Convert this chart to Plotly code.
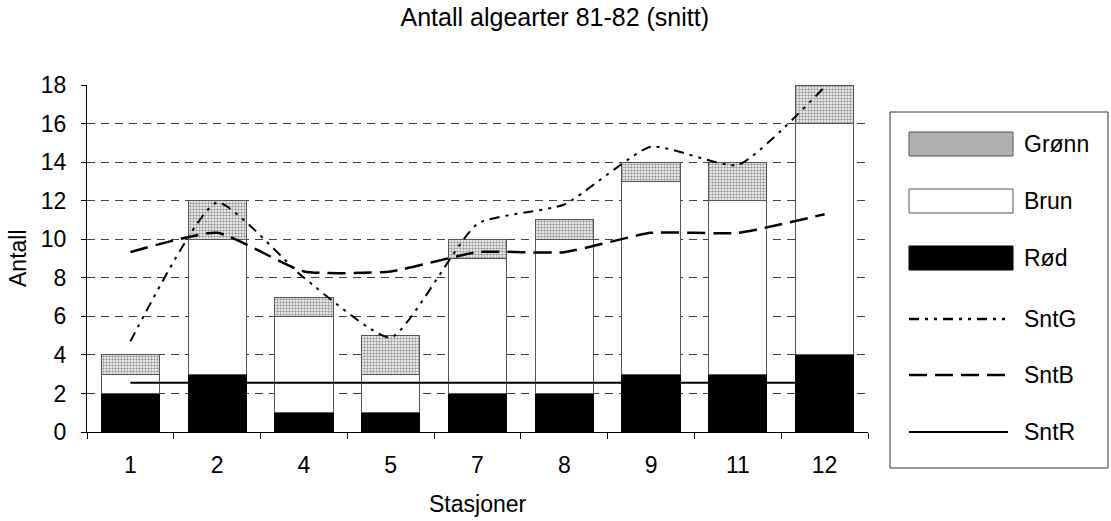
import plotly.graph_objects as go

# ---- data ----
stasjoner = ["1", "2", "4", "5", "7", "8", "9", "11", "12"]
rod = [2, 3, 1, 1, 2, 2, 3, 3, 4]
brun = [1, 7, 5, 2, 7, 8, 10, 9, 12]
gronn = [1, 2, 1, 2, 1, 1, 1, 2, 2]
snt_g = [4.7, 11.9, 8.0, 4.9, 10.8, 11.8, 14.8, 13.85, 17.9]
snt_b = [9.33, 10.33, 8.33, 8.33, 9.33, 9.33, 10.33, 10.33, 11.3]
snt_r = [2.56] * 9
y_ticks = [0, 2, 4, 6, 8, 10, 12, 14, 16, 18]

FONT = "Liberation Sans, Arial, sans-serif"
FS = 23

fig = go.Figure()
fig.add_trace(go.Bar(x=stasjoner, y=rod, name="Rød",
                     marker=dict(color="#000000", line=dict(color="#000000", width=1)),
                     showlegend=False))
fig.add_trace(go.Bar(x=stasjoner, y=brun, name="Brun",
                     marker=dict(color="#ffffff", line=dict(color="#555555", width=1)),
                     showlegend=False))
fig.add_trace(go.Bar(x=stasjoner, y=gronn, name="Grønn",
                     marker=dict(color="#ffffff", line=dict(color="#555555", width=1),
                                 pattern=dict(shape=".", fgcolor="#303030", bgcolor="#ffffff",
                                              size=3, solidity=0.5)),
                     showlegend=False))
fig.add_trace(go.Scatter(x=stasjoner, y=snt_r, name="SntR", mode="lines",
                         line=dict(color="#000000", width=2), showlegend=False))
fig.add_trace(go.Scatter(x=stasjoner, y=snt_b, name="SntB", mode="lines",
                         line=dict(color="#000000", width=2.5, dash="18px,8px",
                                   shape="spline", smoothing=0.5),
                         showlegend=False))
fig.add_trace(go.Scatter(x=stasjoner, y=snt_g, name="SntG", mode="lines",
                         line=dict(color="#000000", width=2, dash="10px,6px,3px,6px,3px,6px",
                                   shape="spline", smoothing=0.5),
                         showlegend=False))

L, R, T, B = 87, 243, 85, 89
W, H = 1111, 521
pw, ph = W - L - R, H - T - B


def px(x):
    return (x - L) / pw


def py(y):
    return (H - B - y) / ph


shapes = []
annotations = []
# legend box
shapes.append(dict(type="rect", xref="paper", yref="paper",
                   x0=px(890), x1=px(1108), y0=py(468), y1=py(112),
                   line=dict(color="#333333", width=1), fillcolor="rgba(0,0,0,0)"))
legend_items = [
    ("Grønn", 144, "rect", dict(fill="#b0b0b0", line="#555555")),
    ("Brun", 201, "rect", dict(fill="#ffffff", line="#555555")),
    ("Rød", 258, "rect", dict(fill="#000000", line="#000000")),
    ("SntG", 319, "line", dict(dash="10px,6px,3px,6px,3px,6px", w=2.5)),
    ("SntB", 375, "line", dict(dash="18px,8px", w=2.5)),
    ("SntR", 432, "line", dict(dash="solid", w=2)),
]
for name, yc, kind, st in legend_items:
    if kind == "rect":
        shapes.append(dict(type="rect", xref="paper", yref="paper",
                           x0=px(909), x1=px(1013), y0=py(yc + 12), y1=py(yc - 12),
                           fillcolor=st["fill"], line=dict(color=st["line"], width=1)))
    else:
        shapes.append(dict(type="line", xref="paper", yref="paper",
                           x0=px(909), x1=px(1008), y0=py(yc), y1=py(yc),
                           line=dict(color="#000000", width=st["w"], dash=st["dash"])))
    annotations.append(dict(text=name, xref="paper", yref="paper", x=px(1022), y=py(yc),
                            xanchor="left", yanchor="middle", showarrow=False,
                            font=dict(family=FONT, size=FS, color="#000000")))

# axis titles
annotations.append(dict(text="Stasjoner", xref="paper", yref="paper", x=0.5, y=py(519),
                        xanchor="center", yanchor="bottom", showarrow=False,
                        font=dict(family=FONT, size=FS, color="#000000")))
annotations.append(dict(text="Antall", xref="paper", yref="paper", x=px(18), y=py(258),
                        xanchor="center", yanchor="middle", showarrow=False, textangle=-90,
                        font=dict(family=FONT, size=FS, color="#000000")))

fig.update_layout(
    width=W, height=H,
    margin=dict(l=L, r=R, t=T, b=B, pad=0),
    paper_bgcolor="#ffffff", plot_bgcolor="#ffffff",
    barmode="stack", bargap=0.33,
    title=dict(text="Antall algearter 81-82 (snitt)", x=px(477), xanchor="center",
               y=1 - 17 / H, yanchor="middle", yref="container",
               font=dict(family=FONT, size=25, color="#000000")),
    font=dict(family=FONT, size=FS, color="#000000"),
    shapes=shapes, annotations=annotations, showlegend=False,
    xaxis=dict(type="category", showline=True, linecolor="#000000", linewidth=1,
               ticks="outside", ticklen=6, tickcolor="#000000", tickson="boundaries",
               ticklabelstandoff=12,
               showgrid=False, tickfont=dict(family=FONT, size=FS)),
    yaxis=dict(range=[0, 18], tickvals=y_ticks, showline=True, linecolor="#000000",
               linewidth=1, ticks="outside", ticklen=5, tickcolor="#000000",
               ticklabelstandoff=10,
               showgrid=True, gridcolor="#404040", gridwidth=1, griddash="8px,6px",
               zeroline=False, tickfont=dict(family=FONT, size=FS)),
)

fig.write_html("out.html", config={"displayModeBar": False},
               post_script="document.body.style.margin='0';document.body.style.overflow='hidden';")
